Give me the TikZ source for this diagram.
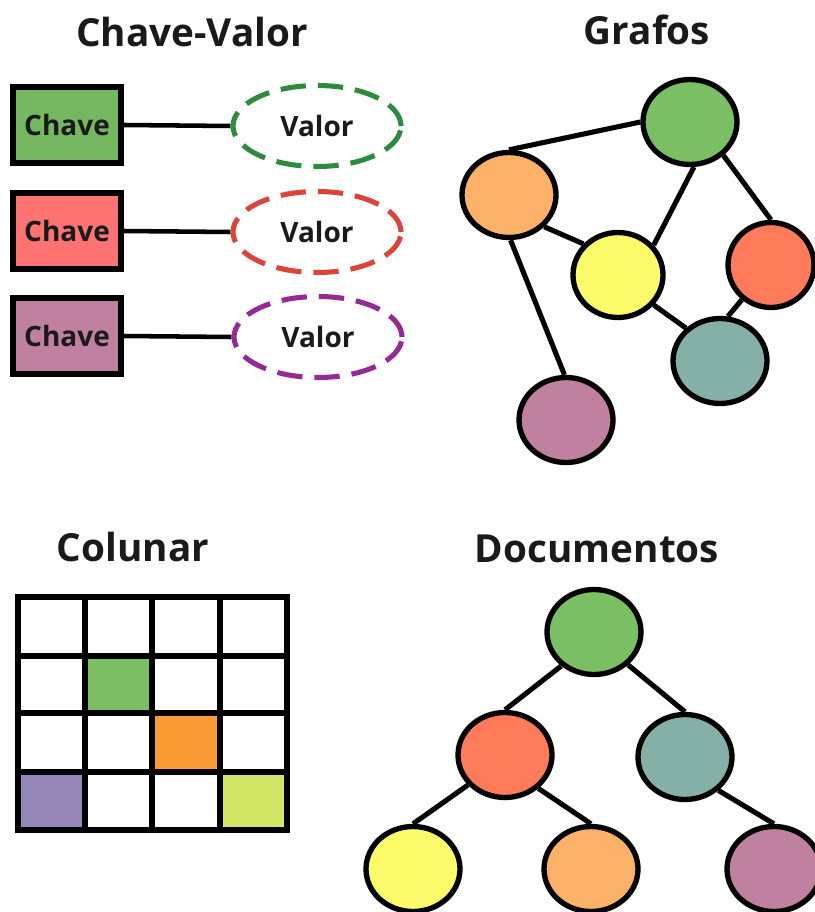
\documentclass[tikz,border=0pt]{standalone}
\usepackage{fontspec}
\setmainfont{Open Sans}
\usetikzlibrary{shapes.geometric,backgrounds}
\definecolor{ink}{HTML}{1A1A1A}
\definecolor{kgreen}{HTML}{76B861}
\definecolor{kred}{HTML}{FF7373}
\definecolor{kpurple}{HTML}{C080A0}
\definecolor{dgreen}{HTML}{2E8B3E}
\definecolor{dred}{HTML}{D9453A}
\definecolor{dpurple}{HTML}{952A95}
\definecolor{ngreen}{HTML}{7ABF64}
\definecolor{norange}{HTML}{FBB168}
\definecolor{nyellow}{HTML}{FCFC6A}
\definecolor{nred}{HTML}{FF7B5A}
\definecolor{nteal}{HTML}{84B0A8}
\definecolor{npurple}{HTML}{C080A0}
\definecolor{cgreen}{HTML}{7BBE64}
\definecolor{corange}{HTML}{F99A35}
\definecolor{cviolet}{HTML}{9487B8}
\definecolor{clime}{HTML}{D4E465}
\tikzset{
  title/.style={font=\fontsize{29}{34}\selectfont\bfseries, text=ink, anchor=base, inner sep=0},
  keybox/.style={draw=black, line width=4pt, minimum width={108*0.75pt}, minimum height={76*0.75pt},
    inner sep=0, font=\fontsize{21}{24}\selectfont\bfseries, text=ink},
  valbox/.style={ellipse, line width=3.8pt, dash pattern=on 19pt off 9pt, minimum width={168*0.75pt},
    minimum height={81*0.75pt}, inner sep=0, font=\fontsize{21}{24}\selectfont\bfseries, text=ink},
  link/.style={line width=3.4pt, black},
  dot/.style={ellipse, draw=black, line width=4pt, minimum width={94*0.75pt}, minimum height={85*0.75pt}, inner sep=0},
  edge/.style={line width=3.8pt, black},
  gridline/.style={line width=4pt, black},
}
\begin{document}
\begin{tikzpicture}[x=0.75pt,y=-0.75pt]
\useasboundingbox (0,0) rectangle (814,912);

% ---------- titles ----------
\node[title] (t1) at (192,47) {Chave-Valor};
\node[title] (t2) at (647,45) {Grafos};
\node[title] (t3) at (133,561) {Colunar};
\node[title] (t4) at (597,562) {Documentos};

% ---------- key / value ----------
\node[keybox, fill=kgreen]  (k1) at (67,125) {Chave};
\node[keybox, fill=kred]    (k2) at (67,231) {Chave};
\node[keybox, fill=kpurple] (k3) at (67,336) {Chave};
\node[valbox, draw=dgreen]  (v1) at (317,126) {Valor};
\node[valbox, draw=dred]    (v2) at (317,232) {Valor};
\node[valbox, draw=dpurple] (v3) at (318,337) {Valor};
\draw[link] (k1.east) -- (v1.west);
\draw[link] (k2.east) -- (v2.west);
\draw[link] (k3.east) -- (v3.west);

% ---------- graph ----------
\node[dot, fill=ngreen]  (gA) at (690,122) {};
\node[dot, fill=norange] (gB) at (509,195) {};
\node[dot, fill=nyellow, minimum width={90*0.75pt}] (gC) at (618,275) {};
\node[dot, fill=nred, minimum width={86*0.75pt}] (gD) at (771,265) {};
\node[dot, fill=nteal]   (gE) at (720,361) {};
\node[dot, fill=npurple] (gF) at (566,420) {};
\begin{scope}[on background layer]
  \draw[edge] (gA.west) -- (gB.north);
  \draw[edge] (gA.-85) -- (gC.40);
  \draw[edge] (gA.-45) -- (gD.north);
  \draw[edge] (gB.-42) -- (gC.138);
  \draw[edge] (gB.-88) -- (gF.92);
  \draw[edge] (gC.-40) -- (gE.136);
  \draw[edge] (gD.-130) -- (gE.80);
\end{scope}

% ---------- columns ----------
\fill[cgreen]  (85,656) rectangle (152,713);
\fill[corange] (152,713) rectangle (220,772);
\fill[cviolet] (18,772) rectangle (85,830);
\fill[clime]   (220,772) rectangle (287,830);
\draw[gridline] (18,597) rectangle (287,830);
\foreach \cx in {85,152,220} \draw[gridline] (\cx,597) -- (\cx,830);
\foreach \cy in {656,713,772} \draw[gridline] (18,\cy) -- (287,\cy);

% ---------- documents ----------
\node[dot, fill=ngreen]  (dA) at (594,632) {};
\node[dot, fill=nred]    (dB) at (505,755) {};
\node[dot, fill=nteal]   (dC) at (685,757) {};
\node[dot, fill=nyellow] (dD) at (413,869) {};
\node[dot, fill=norange] (dE) at (591,869) {};
\node[dot, fill=npurple] (dF) at (774,869) {};
\begin{scope}[on background layer]
  \draw[edge] (dA.-134) -- (dB.north);
  \draw[edge] (dA.-44) -- (dC.north);
  \draw[edge] (dB.-141) -- (dD.north);
  \draw[edge] (dB.-45) -- (dE.north);
  \draw[edge] (dC.-45) -- (dF.north);
\end{scope}
\end{tikzpicture}
\end{document}
